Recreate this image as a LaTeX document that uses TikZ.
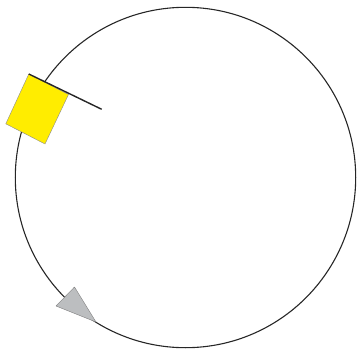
\documentclass[tikz,border=0pt]{standalone}
\begin{document}
\begin{tikzpicture}[x=1pt,y=-1pt,
  ring/.style={draw=black!85,line width=1.1pt},
  flagbox/.style={fill={rgb,255:red,255;green,237;blue,0},draw=black!45,line width=0.4pt},
  flagpole/.style={draw=black!85,line width=1.4pt},
  tri/.style={fill={rgb,255:red,188;green,190;blue,192},draw=black!50,line width=0.4pt,line join=round}]
\useasboundingbox (0,0) rectangle (357,351);
\coordinate (c) at (185.5,177.5);
\draw[ring] (c) circle[radius=170.2];
\coordinate (r1) at (28.8,74);
\coordinate (r2) at (68.5,94.5);
\coordinate (r3) at (45,144);
\coordinate (r4) at (5.8,123.8);
\coordinate (pend) at (101.7,109.3);
\filldraw[flagbox] (r1) -- (r2) -- (r3) -- (r4) -- cycle;
\draw[flagpole] (r1) -- (pend);
\coordinate (t1) at (74.5,287);
\coordinate (t2) at (56,306);
\coordinate (t3) at (96,322);
\filldraw[tri] (t1) -- (t2) -- (t3) -- cycle;
\end{tikzpicture}
\end{document}
